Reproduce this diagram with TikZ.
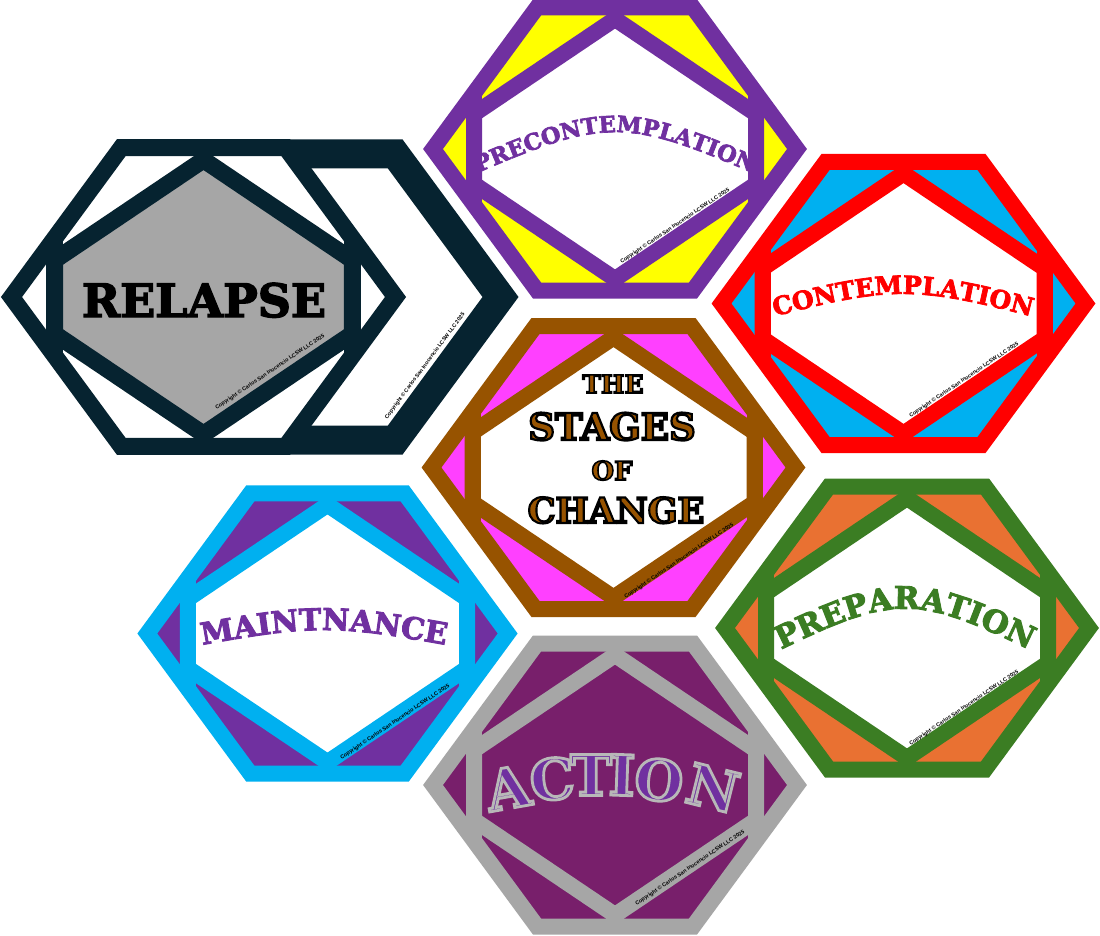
\documentclass[tikz,border=0pt]{standalone}
\usepackage{fontspec}
\usetikzlibrary{decorations.text}
\newfontfamily\coop{DejaVu Serif Bold}[FakeBold=3]
\newfontfamily\coopline{DejaVu Serif Bold}[FakeBold=6]
\newfontfamily\coopring{DejaVu Serif Bold}[FakeBold=5]
\newfontfamily\copyfont{Liberation Sans Bold}
\definecolor{plum}{HTML}{7030A0}
\definecolor{lemon}{HTML}{FFFF00}
\definecolor{navy}{HTML}{062330}
\definecolor{ashgray}{HTML}{A6A6A6}
\definecolor{skyblue}{HTML}{00B0F0}
\definecolor{rust}{HTML}{975300}
\definecolor{pink}{HTML}{FF40FF}
\definecolor{leaf}{HTML}{3B7D23}
\definecolor{tangerine}{HTML}{E97132}
\definecolor{wine}{HTML}{781F6B}
\newcommand{\copyr}{Copyright © Carlos San Inocencio LCSW LLC 2025}
% outline colour of the emboldening stroke
\newcommand{\ringed}[2]{\special{pdf:literal direct #1 RG}#2}
% tile: x, y, scale, line, outer fill, inner fill
\newcommand{\stagetile}[6]{%
	\begin{scope}[shift={(#1,#2)}, scale=#3]
		\fill[#5] (-182,0) -- (-78,-141.5) -- (78,-141.5) -- (182,0) -- (78,141.5) -- (-78,141.5) -- cycle;
		\fill[#6] (0,-130) -- (141,-35) -- (141,35) -- (0,130) -- (-141,35) -- (-141,-35) -- cycle;
		\begin{scope}
			\clip (-182,0) -- (-78,-141.5) -- (78,-141.5) -- (182,0) -- (78,141.5) -- (-78,141.5) -- cycle;
			\draw[line width=16pt, #4] (-141,-150) -- (-141,150) (141,-150) -- (141,150);
		\end{scope}
		\draw[line width=16pt, line join=miter, #4] (0,-130) -- (141,-35) -- (141,35) -- (0,130) -- (-141,35) -- (-141,-35) -- cycle;
		\draw[line width=16pt, line join=miter, #4] (-182,0) -- (-78,-141.5) -- (78,-141.5) -- (182,0) -- (78,141.5) -- (-78,141.5) -- cycle;
	\end{scope}}
\begin{document}
\begin{tikzpicture}[x=1pt, y=-1pt,
	copyr/.style={font=\copyfont\fontsize{5.4}{6}\selectfont, inner sep=0pt},
	bigword/.style={font=\coop\fontsize{46}{46}\selectfont, inner sep=0pt, anchor=base},
	stageword/.style={text=rust, inner sep=0pt, anchor=base},
	actletter/.style={font=\coopring\fontsize{56}{56}\selectfont, text=plum, inner sep=0pt},
	arched/.style={decorate, decoration={text along path, text align=center, text={#1}}}
	]
	\fill[white] (0,0) rectangle (1100,936);
	\useasboundingbox (0,0) rectangle (1100,936);
	% RELAPSE
	\draw[navy, line width=29pt, line join=miter, fill=white] (132.5,297) -- (237.9,153.8) -- (395.1,153.8) -- (500.5,297) -- (395.1,440.2) -- (237.9,440.2) -- cycle;
	\stagetile{203.5}{297}{1.055}{navy, line width=17pt}{white}{ashgray}
	\node[bigword] (relapse) at (204,317) {RELAPSE};
	\node[copyr, rotate=34] (crelapse) at (270,372) {\copyr};
	\node[copyr, rotate=53.5] (crelapse2) at (425,366) {\copyr};
	% PRECONTEMPLATION
	\stagetile{615}{149}{1}{plum}{lemon}{white}
	\path[arched={|\coop\fontsize{22.5}{22.5}\selectfont\color{plum}|PRECONTEMPLATION}] (435,191.5) .. controls (615,112.5) .. (795,191.5);
	\node[copyr, rotate=34] (cpre) at (675,226) {\copyr};
	% CONTEMPLATION
	\stagetile{903.5}{303.5}{1}{red}{skyblue}{white}
	\path[arched={|\coop\fontsize{25}{25}\selectfont\color{red}|CONTEMPLATION}] (723,330.1) .. controls (903,281.9) .. (1083,330.1);
	\node[copyr, rotate=34] (ccon) at (964,380) {\copyr};
	% THE STAGES OF CHANGE
	\stagetile{613.5}{467.5}{1}{rust}{pink}{white}
	\node[stageword, font=\coopline\fontsize{25}{25}\selectfont] (the) at (613,393) {\ringed{0 0 0}{THE}};
	\node[stageword, font=\coopline\fontsize{37}{37}\selectfont] (stages) at (612,440) {\ringed{0 0 0}{STAGES}};
	\node[stageword, font=\coopline\fontsize{26}{26}\selectfont] (of) at (612,480) {\ringed{0 0 0}{OF}};
	\node[stageword, font=\coopline\fontsize{35}{35}\selectfont] (change) at (616,523) {\ringed{0 0 0}{CHANGE}};
	\node[copyr, rotate=34] (cstages) at (679,561) {\copyr};
	% MAINTNANCE
	\stagetile{327.5}{633.5}{0.99}{skyblue}{plum}{white}
	\path[arched={|\coop\fontsize{30}{30}\selectfont\color{plum}|MAINTNANCE}] (154,653.8) .. controls (324,622.2) .. (494,653.8);
	\node[copyr, rotate=34] (cmaint) at (395,722) {\copyr};
	% PREPARATION
	\stagetile{907}{628}{1}{leaf}{tangerine}{white}
	\path[arched={|\coop\fontsize{31}{31}\selectfont\color{leaf}|PREPARATION}] (735,672.3) .. controls (905,587.7) .. (1075,672.3);
	\node[copyr, rotate=34] (cprep) at (964,708) {\copyr};
	% ACTION
	\stagetile{615}{785}{1}{ashgray}{wine}{wine}
	\foreach \ch/\x/\y/\r [count=\i] in {A/508/788/10, C/552/779/5, T/591/775/0, I/622/775/-2, O/659/780/-6, N/713/788/-14}
		\node[actletter, rotate=\r] (act\i) at (\x,\y) {\ringed{0.72 0.72 0.72}{\ch}};
	\node[copyr, rotate=34] (caction) at (690,868) {\copyr};
\end{tikzpicture}
\end{document}
